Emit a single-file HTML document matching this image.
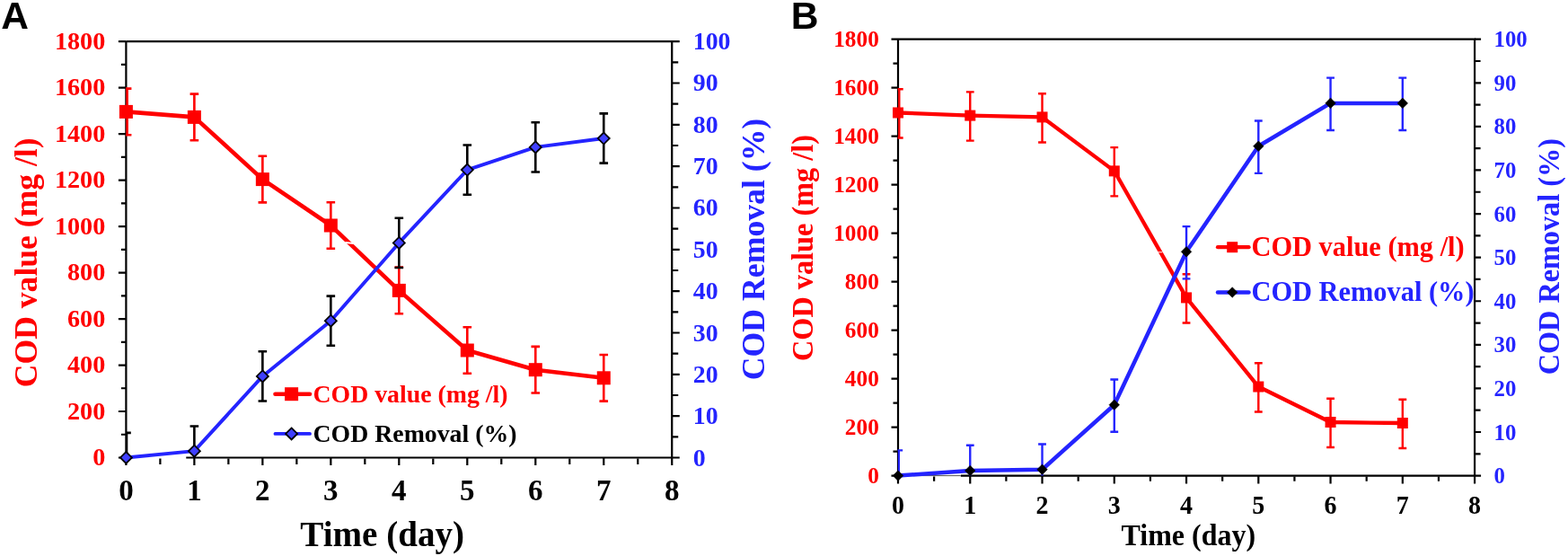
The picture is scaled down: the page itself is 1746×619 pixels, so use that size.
<!DOCTYPE html>
<html><head><meta charset="utf-8"><title>COD charts</title>
<style>html,body{margin:0;padding:0;background:#fff;width:1746px;height:619px;overflow:hidden}svg{display:block}</style>
</head><body>
<svg width="1746" height="619" viewBox="0 0 1746 619" font-family="'Liberation Serif','Times New Roman',serif" font-weight="bold">
<rect width="1746" height="619" fill="#fff"/>
<text x="1.2" y="32.3" font-family="'Liberation Sans',Arial,sans-serif" font-weight="bold" font-size="42.5" fill="#000">A</text>
<text x="880.7" y="32.3" font-family="'Liberation Sans',Arial,sans-serif" font-weight="bold" font-size="42.5" fill="#000">B</text>
<path d="M140.4 46.15H748.24V509.5M140.4 46.15V509.5" stroke="#000" stroke-width="2.2" fill="none"/>
<path d="M207.26 509.5H748.24" stroke="#000" stroke-width="2.2" fill="none"/>
<path d="M131.9 509.5H140.4M134.9 483.76H140.4M131.9 458.02H140.4M134.9 432.27H140.4M131.9 406.53H140.4M134.9 380.79H140.4M131.9 355.05H140.4M134.9 329.31H140.4M131.9 303.57H140.4M134.9 277.82H140.4M131.9 252.08H140.4M134.9 226.34H140.4M131.9 200.6H140.4M134.9 174.86H140.4M131.9 149.12H140.4M134.9 123.38H140.4M131.9 97.63H140.4M134.9 71.89H140.4M131.9 46.15H140.4M748.24 509.5H756.74M748.24 486.33H755.24M748.24 463.17H756.74M748.24 440H755.24M748.24 416.83H756.74M748.24 393.66H755.24M748.24 370.5H756.74M748.24 347.33H755.24M748.24 324.16H756.74M748.24 300.99H755.24M748.24 277.82H756.74M748.24 254.66H755.24M748.24 231.49H756.74M748.24 208.32H755.24M748.24 185.15H756.74M748.24 161.99H755.24M748.24 138.82H756.74M748.24 115.65H755.24M748.24 92.49H756.74M748.24 69.32H755.24M748.24 46.15H756.74M140.4 509.5V518M178.39 510.5V517M216.38 509.5V518M254.37 510.5V517M292.36 509.5V518M330.35 510.5V517M368.34 509.5V518M406.33 510.5V517M444.32 509.5V518M482.31 510.5V517M520.3 509.5V518M558.29 510.5V517M596.28 509.5V518M634.27 510.5V517M672.26 509.5V518M710.25 510.5V517M748.24 509.5V518" stroke="#000" stroke-width="2.2" fill="none"/>
<text transform="translate(117.3 518)" text-anchor="end" font-size="28.2" fill="#ff0000">0</text>
<text transform="translate(117.3 466.52)" text-anchor="end" font-size="28.2" fill="#ff0000">200</text>
<text transform="translate(117.3 415.03)" text-anchor="end" font-size="28.2" fill="#ff0000">400</text>
<text transform="translate(117.3 363.55)" text-anchor="end" font-size="28.2" fill="#ff0000">600</text>
<text transform="translate(117.3 312.07)" text-anchor="end" font-size="28.2" fill="#ff0000">800</text>
<text transform="translate(117.3 260.58)" text-anchor="end" font-size="28.2" fill="#ff0000">1000</text>
<text transform="translate(117.3 209.1)" text-anchor="end" font-size="28.2" fill="#ff0000">1200</text>
<text transform="translate(117.3 157.62)" text-anchor="end" font-size="28.2" fill="#ff0000">1400</text>
<text transform="translate(117.3 106.13)" text-anchor="end" font-size="28.2" fill="#ff0000">1600</text>
<text transform="translate(117.3 54.65)" text-anchor="end" font-size="28.2" fill="#ff0000">1800</text>
<text transform="translate(771.8 518.5)" font-size="27.8" fill="#2424ff">0</text>
<text transform="translate(771.8 472.17)" font-size="27.8" fill="#2424ff">10</text>
<text transform="translate(771.8 425.83)" font-size="27.8" fill="#2424ff">20</text>
<text transform="translate(771.8 379.5)" font-size="27.8" fill="#2424ff">30</text>
<text transform="translate(771.8 333.16)" font-size="27.8" fill="#2424ff">40</text>
<text transform="translate(771.8 286.82)" font-size="27.8" fill="#2424ff">50</text>
<text transform="translate(771.8 240.49)" font-size="27.8" fill="#2424ff">60</text>
<text transform="translate(771.8 194.15)" font-size="27.8" fill="#2424ff">70</text>
<text transform="translate(771.8 147.82)" font-size="27.8" fill="#2424ff">80</text>
<text transform="translate(771.8 101.49)" font-size="27.8" fill="#2424ff">90</text>
<text transform="translate(771.8 55.15)" font-size="27.8" fill="#2424ff">100</text>
<text transform="translate(140.4 557) scale(1 1.03)" text-anchor="middle" font-size="33" fill="#000">0</text>
<text transform="translate(216.38 557) scale(1 1.03)" text-anchor="middle" font-size="33" fill="#000">1</text>
<text transform="translate(292.36 557) scale(1 1.03)" text-anchor="middle" font-size="33" fill="#000">2</text>
<text transform="translate(368.34 557) scale(1 1.03)" text-anchor="middle" font-size="33" fill="#000">3</text>
<text transform="translate(444.32 557) scale(1 1.03)" text-anchor="middle" font-size="33" fill="#000">4</text>
<text transform="translate(520.3 557) scale(1 1.03)" text-anchor="middle" font-size="33" fill="#000">5</text>
<text transform="translate(596.28 557) scale(1 1.03)" text-anchor="middle" font-size="33" fill="#000">6</text>
<text transform="translate(672.26 557) scale(1 1.03)" text-anchor="middle" font-size="33" fill="#000">7</text>
<text transform="translate(748.24 557) scale(1 1.03)" text-anchor="middle" font-size="33" fill="#000">8</text>
<text transform="translate(40.8 292.3) rotate(-90)" text-anchor="middle" font-size="35.6" fill="#ff0000">COD value (mg /l)</text>
<text transform="translate(850.7 277.5) rotate(-90)" text-anchor="middle" font-size="35.7" fill="#2424ff">COD Removal (%)</text>
<text transform="translate(425.7 607.6)" text-anchor="middle" font-size="39.1" fill="#000">Time (day)</text>
<clipPath id="clipA"><rect x="140" y="0" width="627.84" height="509.5"/></clipPath>
<path clip-path="url(#clipA)" d="M141.6 98.61V150.2M136.8 98.61H146.4M136.8 150.2H146.4M216.38 104.61V156.2M211.58 104.61H221.18M211.58 156.2H221.18M292.36 173.8V225.39M287.56 173.8H297.16M287.56 225.39H297.16M368.34 225.21V276.8M363.54 225.21H373.14M363.54 276.8H373.14M444.32 297.59V349.18M439.52 297.59H449.12M439.52 349.18H449.12M520.3 364.21V415.8M515.5 364.21H525.1M515.5 415.8H525.1M596.28 385.89V437.47M591.48 385.89H601.08M591.48 437.47H601.08M672.26 395V446.59M667.46 395H677.06M667.46 446.59H677.06" stroke="#ff0000" stroke-width="2.6" fill="none"/>
<polyline points="140.4,124.4 216.38,130.4 292.36,199.6 368.34,251 444.32,323.39 520.3,390.01 596.28,411.68 672.26,420.79" stroke="#ff0000" stroke-width="4.6" fill="none" stroke-linejoin="round"/>
<rect x="132.9" y="116.9" width="15" height="15" fill="#ff0000"/>
<rect x="208.88" y="122.9" width="15" height="15" fill="#ff0000"/>
<rect x="284.86" y="192.1" width="15" height="15" fill="#ff0000"/>
<rect x="360.84" y="243.5" width="15" height="15" fill="#ff0000"/>
<rect x="436.82" y="315.89" width="15" height="15" fill="#ff0000"/>
<rect x="512.8" y="382.51" width="15" height="15" fill="#ff0000"/>
<rect x="588.78" y="404.18" width="15" height="15" fill="#ff0000"/>
<rect x="664.76" y="413.29" width="15" height="15" fill="#ff0000"/>
<path d="M384.4 270L394.2 271" stroke="#fff" stroke-width="2.0" fill="none"/>
<polyline points="140.4,509.5 216.38,502.18 292.36,418.92 368.34,357.2 444.32,270.41 520.3,189.09 596.28,163.89 672.26,154.02" stroke="#2424ff" stroke-width="3.9" fill="none" stroke-linejoin="round"/>
<path clip-path="url(#clipA)" d="M141 481.88V537.12M136.2 481.88H145.8M136.2 537.12H145.8M216.38 474.56V529.79M211.58 474.56H221.18M211.58 529.79H221.18M292.36 391.3V446.53M287.56 391.3H297.16M287.56 446.53H297.16M368.34 329.58V384.81M363.54 329.58H373.14M363.54 384.81H373.14M444.32 242.8V298.03M439.52 242.8H449.12M439.52 298.03H449.12M520.3 161.48V216.71M515.5 161.48H525.1M515.5 216.71H525.1M596.28 136.27V191.5M591.48 136.27H601.08M591.48 191.5H601.08M672.26 126.4V181.63M667.46 126.4H677.06M667.46 181.63H677.06" stroke="#000" stroke-width="2.6" fill="none"/>
<path d="M140.4 503L146.9 509.5L140.4 516L133.9 509.5Z" fill="#4040ff" stroke="#000" stroke-width="1.8"/>
<path d="M216.38 495.68L222.88 502.18L216.38 508.68L209.88 502.18Z" fill="#4040ff" stroke="#000" stroke-width="1.8"/>
<path d="M292.36 412.42L298.86 418.92L292.36 425.42L285.86 418.92Z" fill="#4040ff" stroke="#000" stroke-width="1.8"/>
<path d="M368.34 350.7L374.84 357.2L368.34 363.7L361.84 357.2Z" fill="#4040ff" stroke="#000" stroke-width="1.8"/>
<path d="M444.32 263.91L450.82 270.41L444.32 276.91L437.82 270.41Z" fill="#4040ff" stroke="#000" stroke-width="1.8"/>
<path d="M520.3 182.59L526.8 189.09L520.3 195.59L513.8 189.09Z" fill="#4040ff" stroke="#000" stroke-width="1.8"/>
<path d="M596.28 157.39L602.78 163.89L596.28 170.39L589.78 163.89Z" fill="#4040ff" stroke="#000" stroke-width="1.8"/>
<path d="M672.26 147.52L678.76 154.02L672.26 160.52L665.76 154.02Z" fill="#4040ff" stroke="#000" stroke-width="1.8"/>
<path d="M306.5 438.7H345" stroke="#ff0000" stroke-width="4.6" stroke-linecap="round"/>
<rect x="317.1" y="431.2" width="15" height="15" fill="#ff0000"/>
<path d="M306.5 482.9H345" stroke="#2424ff" stroke-width="3.9" stroke-linecap="round"/>
<path d="M324.6 476.4L331.1 482.9L324.6 489.4L318.1 482.9Z" fill="#4040ff" stroke="#000" stroke-width="1.8"/>
<text transform="translate(348.5 447.6)" font-size="27.8" fill="#ff0000">COD value (mg /l)</text>
<text transform="translate(348.5 491.5)" font-size="27.8" fill="#000">COD Removal (%)</text>
<path d="M1000 43.7H1642.08V529.6M1000 43.7V529.6" stroke="#000" stroke-width="2.2" fill="none"/>
<path d="M1069.83 529.6H1642.08" stroke="#000" stroke-width="2.2" fill="none"/>
<path d="M1000 529.6H1069.83" stroke="#555" stroke-width="1" fill="none"/>
<path d="M992.5 529.6H1000M994.5 502.61H1000M992.5 475.61H1000M994.5 448.62H1000M992.5 421.62H1000M994.5 394.63H1000M992.5 367.63H1000M994.5 340.64H1000M992.5 313.64H1000M994.5 286.65H1000M992.5 259.66H1000M994.5 232.66H1000M992.5 205.67H1000M994.5 178.67H1000M992.5 151.68H1000M994.5 124.68H1000M992.5 97.69H1000M994.5 70.69H1000M992.5 43.7H1000M1642.08 529.6H1649.08M1642.08 505.31H1648.58M1642.08 481.01H1649.08M1642.08 456.72H1648.58M1642.08 432.42H1649.08M1642.08 408.12H1648.58M1642.08 383.83H1649.08M1642.08 359.54H1648.58M1642.08 335.24H1649.08M1642.08 310.95H1648.58M1642.08 286.65H1649.08M1642.08 262.35H1648.58M1642.08 238.06H1649.08M1642.08 213.76H1648.58M1642.08 189.47H1649.08M1642.08 165.18H1648.58M1642.08 140.88H1649.08M1642.08 116.59H1648.58M1642.08 92.29H1649.08M1642.08 68H1648.58M1642.08 43.7H1649.08M1000 529.6V538.4M1040.13 530.6V535.8M1080.26 529.6V538.4M1120.39 530.6V535.8M1160.52 529.6V538.4M1200.65 530.6V535.8M1240.78 529.6V538.4M1280.91 530.6V535.8M1321.04 529.6V538.4M1361.17 530.6V535.8M1401.3 529.6V538.4M1441.43 530.6V535.8M1481.56 529.6V538.4M1521.69 530.6V535.8M1561.82 529.6V538.4M1601.95 530.6V535.8M1642.08 529.6V538.4" stroke="#000" stroke-width="2.2" fill="none"/>
<text transform="translate(978.8 537.9) scale(1 1.03)" text-anchor="end" font-size="25.3" fill="#ff0000">0</text>
<text transform="translate(978.8 483.91) scale(1 1.03)" text-anchor="end" font-size="25.3" fill="#ff0000">200</text>
<text transform="translate(978.8 429.92) scale(1 1.03)" text-anchor="end" font-size="25.3" fill="#ff0000">400</text>
<text transform="translate(978.8 375.93) scale(1 1.03)" text-anchor="end" font-size="25.3" fill="#ff0000">600</text>
<text transform="translate(978.8 321.94) scale(1 1.03)" text-anchor="end" font-size="25.3" fill="#ff0000">800</text>
<text transform="translate(978.8 267.96) scale(1 1.03)" text-anchor="end" font-size="25.3" fill="#ff0000">1000</text>
<text transform="translate(978.8 213.97) scale(1 1.03)" text-anchor="end" font-size="25.3" fill="#ff0000">1200</text>
<text transform="translate(978.8 159.98) scale(1 1.03)" text-anchor="end" font-size="25.3" fill="#ff0000">1400</text>
<text transform="translate(978.8 105.99) scale(1 1.03)" text-anchor="end" font-size="25.3" fill="#ff0000">1600</text>
<text transform="translate(978.8 52) scale(1 1.03)" text-anchor="end" font-size="25.3" fill="#ff0000">1800</text>
<text transform="translate(1663.5 538.2)" font-size="24.8" fill="#2424ff">0</text>
<text transform="translate(1663.5 489.61)" font-size="24.8" fill="#2424ff">10</text>
<text transform="translate(1663.5 441.02)" font-size="24.8" fill="#2424ff">20</text>
<text transform="translate(1663.5 392.43)" font-size="24.8" fill="#2424ff">30</text>
<text transform="translate(1663.5 343.84)" font-size="24.8" fill="#2424ff">40</text>
<text transform="translate(1663.5 295.25)" font-size="24.8" fill="#2424ff">50</text>
<text transform="translate(1663.5 246.66)" font-size="24.8" fill="#2424ff">60</text>
<text transform="translate(1663.5 198.07)" font-size="24.8" fill="#2424ff">70</text>
<text transform="translate(1663.5 149.48)" font-size="24.8" fill="#2424ff">80</text>
<text transform="translate(1663.5 100.89)" font-size="24.8" fill="#2424ff">90</text>
<text transform="translate(1663.5 52.3)" font-size="24.8" fill="#2424ff">100</text>
<text transform="translate(1000 572) scale(1 1.035)" text-anchor="middle" font-size="28" fill="#000">0</text>
<text transform="translate(1080.26 572) scale(1 1.035)" text-anchor="middle" font-size="28" fill="#000">1</text>
<text transform="translate(1160.52 572) scale(1 1.035)" text-anchor="middle" font-size="28" fill="#000">2</text>
<text transform="translate(1240.78 572) scale(1 1.035)" text-anchor="middle" font-size="28" fill="#000">3</text>
<text transform="translate(1321.04 572) scale(1 1.035)" text-anchor="middle" font-size="28" fill="#000">4</text>
<text transform="translate(1401.3 572) scale(1 1.035)" text-anchor="middle" font-size="28" fill="#000">5</text>
<text transform="translate(1481.56 572) scale(1 1.035)" text-anchor="middle" font-size="28" fill="#000">6</text>
<text transform="translate(1561.82 572) scale(1 1.035)" text-anchor="middle" font-size="28" fill="#000">7</text>
<text transform="translate(1642.08 572) scale(1 1.035)" text-anchor="middle" font-size="28" fill="#000">8</text>
<text transform="translate(905 276) rotate(-90) scale(1 1.02)" text-anchor="middle" font-size="32.3" fill="#ff0000">COD value (mg /l)</text>
<text transform="translate(1736.3 285.7) rotate(-90) scale(1 1.02)" text-anchor="middle" font-size="32.25" fill="#2424ff">COD Removal (%)</text>
<text transform="translate(1323.3 607) scale(1 1.05)" text-anchor="middle" font-size="32" fill="#000">Time (day)</text>
<clipPath id="clipB"><rect x="999.6" y="0" width="662.08" height="529.6"/></clipPath>
<path clip-path="url(#clipB)" d="M1001.3 99.26V153.52M996.9 99.26H1005.7M996.9 153.52H1005.7M1080.26 102.37V156.63M1075.86 102.37H1084.66M1075.86 156.63H1084.66M1160.52 104.18V158.44M1156.12 104.18H1164.92M1156.12 158.44H1164.92M1240.78 164.16V218.42M1236.38 164.16H1245.18M1236.38 218.42H1245.18M1321.04 305.18V359.44M1316.64 305.18H1325.44M1316.64 359.44H1325.44M1401.3 404.3V458.56M1396.9 404.3H1405.7M1396.9 458.56H1405.7M1481.56 443.77V498.03M1477.16 443.77H1485.96M1477.16 498.03H1485.96M1561.82 444.79V499.05M1557.42 444.79H1566.22M1557.42 499.05H1566.22" stroke="#ff0000" stroke-width="2.4" fill="none"/>
<polyline points="1000,125.49 1080.26,128.6 1160.52,130.41 1240.78,190.39 1321.04,331.41 1401.3,430.53 1481.56,470 1561.82,471.02" stroke="#ff0000" stroke-width="4.3" fill="none" stroke-linejoin="round"/>
<rect x="994" y="119.49" width="12" height="12" fill="#ff0000"/>
<rect x="1074.26" y="122.6" width="12" height="12" fill="#ff0000"/>
<rect x="1154.52" y="124.41" width="12" height="12" fill="#ff0000"/>
<rect x="1234.78" y="184.39" width="12" height="12" fill="#ff0000"/>
<rect x="1315.04" y="325.41" width="12" height="12" fill="#ff0000"/>
<rect x="1395.3" y="424.53" width="12" height="12" fill="#ff0000"/>
<rect x="1475.56" y="464" width="12" height="12" fill="#ff0000"/>
<rect x="1555.82" y="465.02" width="12" height="12" fill="#ff0000"/>
<path d="M1289.2 280.8L1294.4 280.8" stroke="#fff" stroke-width="1.0" fill="none"/>
<polyline points="1000,529.6 1080.26,524.01 1160.52,522.7 1240.78,450.74 1321.04,280.33 1401.3,162.79 1481.56,114.88 1561.82,114.88" stroke="#2424ff" stroke-width="4.5" fill="none" stroke-linejoin="round"/>
<path clip-path="url(#clipB)" d="M1000.8 501.35V559.65M996.4 501.35H1005.2M996.4 559.65H1005.2M1080.26 495.76V554.07M1075.86 495.76H1084.66M1075.86 554.07H1084.66M1160.52 494.45V552.75M1156.12 494.45H1164.92M1156.12 552.75H1164.92M1240.78 422.48V480.79M1236.38 422.48H1245.18M1236.38 480.79H1245.18M1321.04 252.08V310.39M1316.64 252.08H1325.44M1316.64 310.39H1325.44M1401.3 134.54V192.85M1396.9 134.54H1405.7M1396.9 192.85H1405.7M1481.56 86.63V144.94M1477.16 86.63H1485.96M1477.16 144.94H1485.96M1561.82 86.63V144.94M1557.42 86.63H1566.22M1557.42 144.94H1566.22" stroke="#2424ff" stroke-width="2.4" fill="none"/>
<path d="M1000 523.8L1005.8 529.6L1000 535.4L994.2 529.6Z" fill="#000" stroke="#000" stroke-width="0.5"/>
<path d="M1080.26 518.21L1086.06 524.01L1080.26 529.81L1074.46 524.01Z" fill="#000" stroke="#000" stroke-width="0.5"/>
<path d="M1160.52 516.9L1166.32 522.7L1160.52 528.5L1154.72 522.7Z" fill="#000" stroke="#000" stroke-width="0.5"/>
<path d="M1240.78 444.94L1246.58 450.74L1240.78 456.54L1234.98 450.74Z" fill="#000" stroke="#000" stroke-width="0.5"/>
<path d="M1321.04 274.53L1326.84 280.33L1321.04 286.13L1315.24 280.33Z" fill="#000" stroke="#000" stroke-width="0.5"/>
<path d="M1401.3 156.99L1407.1 162.79L1401.3 168.59L1395.5 162.79Z" fill="#000" stroke="#000" stroke-width="0.5"/>
<path d="M1481.56 109.08L1487.36 114.88L1481.56 120.68L1475.76 114.88Z" fill="#000" stroke="#000" stroke-width="0.5"/>
<path d="M1561.82 109.08L1567.62 114.88L1561.82 120.68L1556.02 114.88Z" fill="#000" stroke="#000" stroke-width="0.5"/>
<path d="M1356 275.2H1390.5" stroke="#ff0000" stroke-width="4.3" stroke-linecap="round"/>
<rect x="1366.2" y="269.2" width="12" height="12" fill="#ff0000"/>
<path d="M1356 325.5H1390.5" stroke="#2424ff" stroke-width="4.5" stroke-linecap="round"/>
<path d="M1372.2 319.7L1378 325.5L1372.2 331.3L1366.4 325.5Z" fill="#000" stroke="#000" stroke-width="0.5"/>
<text transform="translate(1393.5 284.6) scale(1 1.03)" font-size="30.4" fill="#ff0000">COD value (mg /l)</text>
<text transform="translate(1393.5 335) scale(1 1.03)" font-size="30.4" fill="#2424ff">COD Removal (%)</text>
</svg>
</body></html>
